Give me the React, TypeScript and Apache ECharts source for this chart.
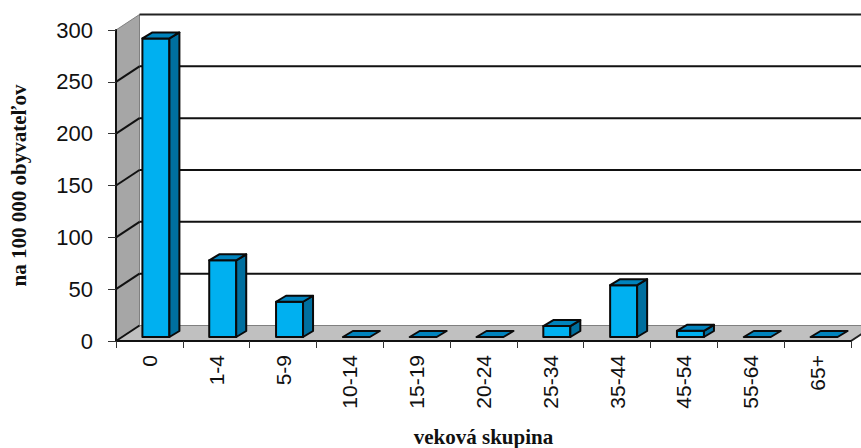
import React, { useEffect, useRef } from "react";
import * as echarts from "echarts";

const categories = ["0", "1-4", "5-9", "10-14", "15-19", "20-24", "25-34", "35-44", "45-54", "55-64", "65+"];
const values = [288, 74, 34, 0, 0, 0, 10.5, 50, 6, 0, 0];
const gridTicks = [50, 100, 150, 200, 250, 300];

const DX = 23.5;
const DY = -15.5;
const BAR_W = 27;
const BAR_DX = 10;
const BAR_DY = -6;
const BAR_SHIFT_X = -7;
const BAR_SHIFT_Y = -4;
const STROKE = "#0a0a0a";

const poly = (points: number[][], fill: string, stroke = STROKE, lineWidth = 2) => ({
  type: "polygon",
  shape: { points },
  style: { fill, stroke, lineWidth, lineJoin: "round" },
});

const line = (a: number[], b: number[], stroke: string, lineWidth: number) => ({
  type: "line",
  shape: { x1: a[0], y1: a[1], x2: b[0], y2: b[1] },
  style: { stroke, lineWidth },
});

export default function App() {
  const ref = useRef<HTMLDivElement>(null);
  useEffect(() => {
    document.body.style.margin = "0";
    const chart = echarts.init(ref.current!, null, { renderer: "svg" });
    chart.setOption({
      animation: false,
      backgroundColor: "#ffffff",
      grid: { left: 116, top: 30, width: 735, height: 311, containLabel: false, outerBoundsMode: "none" },
      xAxis: {
        type: "category",
        data: categories,
        z: 6,
        name: "veková skupina",
        nameLocation: "middle",
        nameGap: 85,
        nameTextStyle: { fontFamily: "Liberation Serif", fontWeight: "bold", fontSize: 21, color: "#111" },
        axisLine: { lineStyle: { color: "#111", width: 2 } },
        axisTick: { show: true, length: 7, lineStyle: { color: "#333", width: 1 } },
        axisLabel: { rotate: 90, margin: 14, interval: 0, fontFamily: "Liberation Sans", fontSize: 21, color: "#111" },
        splitLine: { show: false },
      },
      yAxis: {
        type: "value",
        min: 0,
        max: 300,
        interval: 50,
        z: 6,
        name: "na 100 000 obyvateľov",
        nameLocation: "middle",
        nameRotate: 90,
        nameGap: 87,
        nameTextStyle: { fontFamily: "Liberation Serif", fontWeight: "bold", fontSize: 21, color: "#111" },
        axisLine: { show: true, lineStyle: { color: "#111", width: 2 } },
        axisTick: { show: true, length: 8, lineStyle: { color: "#333", width: 1 } },
        axisLabel: { margin: 23, fontFamily: "Liberation Sans", fontSize: 22, color: "#111" },
        splitLine: { show: false },
      },
      series: [
        {
          type: "custom",
          z: 1,
          silent: true,
          data: [[0, 0]],
          renderItem: (params: any, api: any) => {
            const c = params.coordSys;
            const left = c.x;
            const right = c.x + c.width;
            const top = c.y;
            const bottom = c.y + c.height;
            return {
              type: "group",
              children: [
                poly([[left, top], [left + DX, top + DY], [left + DX, bottom + DY], [left, bottom]], "#a6a6a6", "#808080", 1),
                poly([[left, bottom], [right, bottom], [right + DX, bottom + DY], [left + DX, bottom + DY]], "#c0c0c0", "#808080", 1),
                line([left, bottom], [left + DX, bottom + DY], "#111", 2),
                line([left + DX, top + DY], [right + DX, top + DY], "#222", 2),
                line([right, bottom], [right + DX, bottom + DY], "#222", 2),
              ],
            };
          },
        },
        {
          type: "custom",
          z: 2,
          silent: true,
          data: gridTicks.slice(0, -1).map((v) => [0, v]),
          encode: { x: 0, y: 1 },
          renderItem: (params: any, api: any) => {
            const c = params.coordSys;
            const y = api.coord([0, api.value(1)])[1];
            return {
              type: "group",
              children: [
                line([c.x, y], [c.x + DX, y + DY], "#111", 2),
                line([c.x + DX, y + DY], [c.x + c.width + DX, y + DY], "#111", 2),
              ],
            };
          },
        },
        {
          type: "custom",
          z: 3,
          data: values.map((v, i) => [i, v]),
          encode: { x: 0, y: 1 },
          renderItem: (params: any, api: any) => {
            const [cx, topRaw] = api.coord([api.value(0), api.value(1)]);
            const baseRaw = api.coord([api.value(0), 0])[1];
            const x0 = cx + BAR_SHIFT_X;
            const x1 = x0 + BAR_W;
            const yb = baseRaw + BAR_SHIFT_Y;
            const yt = topRaw + BAR_SHIFT_Y;
            const children: any[] = [];
            if (yb - yt > 0.5) {
              children.push(poly([[x0, yt], [x1, yt], [x1, yb], [x0, yb]], "#00b0f0"));
              children.push(poly([[x1, yt], [x1 + BAR_DX, yt + BAR_DY], [x1 + BAR_DX, yb + BAR_DY], [x1, yb]], "#006f9f"));
            }
            children.push(poly([[x0, yt], [x0 + BAR_DX, yt + BAR_DY], [x1 + BAR_DX, yt + BAR_DY], [x1, yt]], "#0083bd"));
            return { type: "group", children };
          },
        },
      ],
    });
    return () => chart.dispose();
  }, []);
  return <div ref={ref} style={{ width: 861, height: 448 }} />;
}
